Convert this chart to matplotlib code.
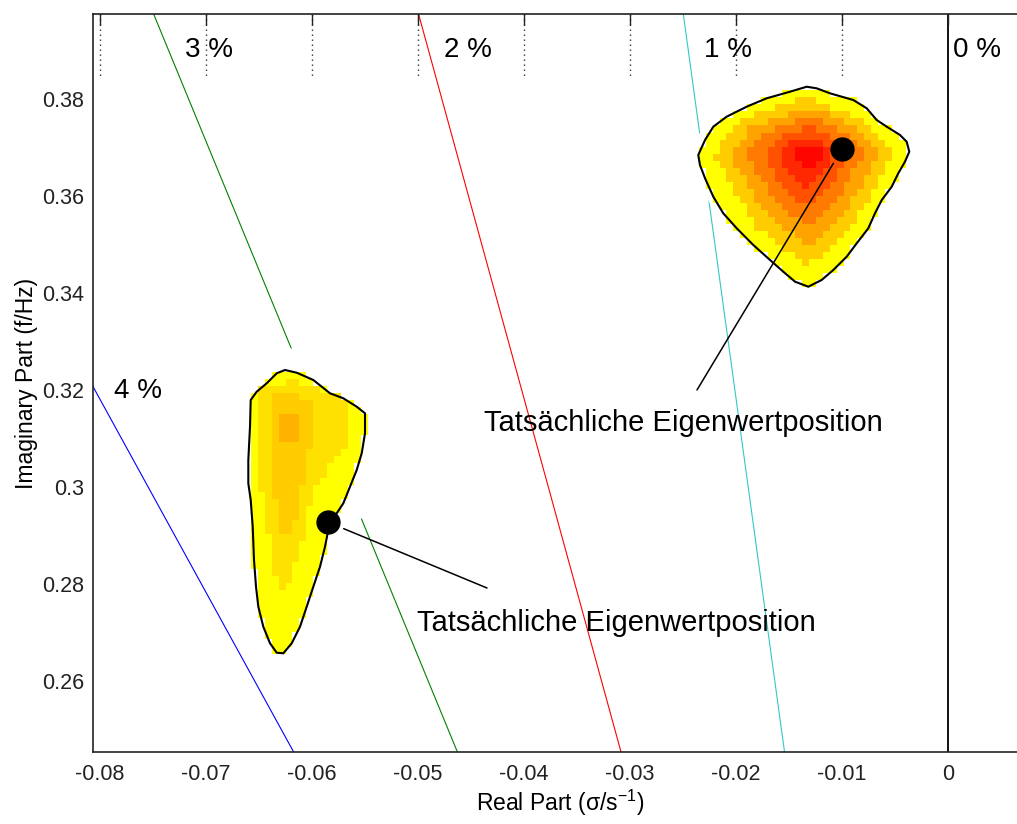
import numpy as np
import matplotlib
matplotlib.use('Agg')
import matplotlib.pyplot as plt
from matplotlib.path import Path
from matplotlib.patches import Polygon

plt.rcParams['font.family'] = ['Liberation Sans', 'DejaVu Sans']
plt.rcParams['mathtext.fontset'] = 'custom'
plt.rcParams['mathtext.rm'] = 'Liberation Sans'
plt.rcParams['mathtext.it'] = 'Liberation Sans:italic'
plt.rcParams['axes.unicode_minus'] = False

# ---------------- data ----------------
damping_pct = [0, 1, 2, 3, 4]
damping_colors = ['black', '#33C8C8', '#FF0000', '#008000', '#0000FF']
damping_labels = ['0 %', '1 %', '2 %', '3 %', '4 %']
damping_label_x = [0.00278, -0.02077, -0.04528, -0.06972, -0.07642]
damping_label_y = [0.3886, 0.3886, 0.3886, 0.3886, 0.3183]

x_ticks = [-0.08, -0.07, -0.06, -0.05, -0.04, -0.03, -0.02, -0.01, 0.0]
x_ticklabels = ['-0.08', '-0.07', '-0.06', '-0.05', '-0.04', '-0.03', '-0.02', '-0.01', '0']
y_ticks = [0.26, 0.28, 0.30, 0.32, 0.34, 0.36, 0.38]
y_ticklabels = ['0.26', '0.28', '0.3', '0.32', '0.34', '0.36', '0.38']
dotted_x = [-0.08, -0.07, -0.06, -0.05, -0.04, -0.03, -0.02, -0.01]
dotted_y_end = 0.3844

# true eigenvalue positions (real part, imaginary part)
eig_re = [-0.0100, -0.05846]
eig_im = [0.3696, 0.29273]
annot_text = ['Tatsächliche Eigenwertposition', 'Tatsächliche Eigenwertposition']
annot_line_end_x = [-0.02368, -0.04349]
annot_line_end_y = [0.31998, 0.27920]
annot_text_x = [-0.0250, -0.03127]
annot_text_y = [0.31318, 0.27199]

# upper blob: outline of the estimate distribution
upper_outline = [
    (-0.02356, 0.36837), (-0.02292, 0.37146), (-0.02214, 0.37420), (-0.02088, 0.37626),
    (-0.01899, 0.37832), (-0.01710, 0.38005), (-0.01491, 0.38140), (-0.01333, 0.38243),
    (-0.01239, 0.38210), (-0.01113, 0.38107), (-0.00893, 0.37969), (-0.00767, 0.37799),
    (-0.00673, 0.37558), (-0.00578, 0.37420), (-0.00453, 0.37249), (-0.00390, 0.37111),
    (-0.00365, 0.36905), (-0.00406, 0.36699), (-0.00469, 0.36460), (-0.00531, 0.36184),
    (-0.00625, 0.35910), (-0.00689, 0.35636), (-0.00752, 0.35327), (-0.00861, 0.35019),
    (-0.00956, 0.34743), (-0.01082, 0.34469), (-0.01192, 0.34263), (-0.01318, 0.34125),
    (-0.01443, 0.34228), (-0.01554, 0.34434), (-0.01679, 0.34675), (-0.01837, 0.34984),
    (-0.01993, 0.35327), (-0.02120, 0.35636), (-0.02214, 0.35978), (-0.02292, 0.36357),
    (-0.02340, 0.36631)]
# nested density levels of the upper blob (read as contours)
upper_level_values = [0.2, 0.36, 0.52, 0.68, 0.84, 0.98]
upper_levels = [
    [(-0.01305, 0.38033), (-0.00743, 0.37456), (-0.00511, 0.36896), (-0.00848, 0.35530),
     (-0.01321, 0.34533), (-0.01810, 0.35355), (-0.02203, 0.36843), (-0.01970, 0.37543)],
    [(-0.01308, 0.37830), (-0.00845, 0.37354), (-0.00654, 0.36893), (-0.00931, 0.35768),
     (-0.01321, 0.34946), (-0.01724, 0.35624), (-0.02047, 0.36849), (-0.01856, 0.37426)],
    [(-0.01310, 0.37626), (-0.00947, 0.37252), (-0.00797, 0.36889), (-0.01015, 0.36006),
     (-0.01321, 0.35360), (-0.01637, 0.35893), (-0.01892, 0.36855), (-0.01741, 0.37309)],
    [(-0.01313, 0.37422), (-0.01049, 0.37150), (-0.00940, 0.36886), (-0.01098, 0.36244),
     (-0.01321, 0.35774), (-0.01551, 0.36162), (-0.01736, 0.36862), (-0.01626, 0.37191)],
    [(-0.01316, 0.37245), (-0.01137, 0.37062), (-0.01064, 0.36884), (-0.01171, 0.36450),
     (-0.01321, 0.36133), (-0.01476, 0.36394), (-0.01601, 0.36867), (-0.01527, 0.37089)],
    [(-0.01318, 0.37068), (-0.01226, 0.36973), (-0.01187, 0.36881), (-0.01243, 0.36656),
     (-0.01321, 0.36492), (-0.01401, 0.36627), (-0.01466, 0.36872), (-0.01428, 0.36988)],
]
upper_halo = [(-0.023679, 0.372282), (-0.022264, 0.375577), (-0.013396, 0.382990),
              (-0.003396, 0.371458), (-0.004057, 0.364250), (-0.013019, 0.340157),
              (-0.022170, 0.357249), (-0.023962, 0.364250)]

# lower blob
lower_outline = [
    (-0.062547, 0.324094), (-0.061443, 0.323538), (-0.059877, 0.322035), (-0.058302, 0.319296),
    (-0.057047, 0.318266), (-0.055783, 0.316536), (-0.055000, 0.315177), (-0.055000, 0.311059),
    (-0.055311, 0.306940), (-0.055783, 0.303501), (-0.056415, 0.300062), (-0.057047, 0.296643),
    (-0.057670, 0.294584), (-0.058462, 0.291145), (-0.058774, 0.287706), (-0.059245, 0.283587),
    (-0.059877, 0.279469), (-0.060500, 0.275350), (-0.061132, 0.271232), (-0.061915, 0.267813),
    (-0.062708, 0.265754), (-0.063330, 0.265877), (-0.063962, 0.267813), (-0.064594, 0.271232),
    (-0.065066, 0.275350), (-0.065283, 0.279469), (-0.065472, 0.284967), (-0.065594, 0.291825),
    (-0.065783, 0.297323), (-0.066009, 0.300762), (-0.066009, 0.305560), (-0.065849, 0.312418),
    (-0.065783, 0.317916), (-0.065217, 0.319625), (-0.064274, 0.321355), (-0.063330, 0.323414)]
lower_level_values = [0.12, 0.2, 0.3]
lower_levels = [
    [(-0.065094, 0.319975), (-0.062075, 0.322035), (-0.057358, 0.318946), (-0.056415, 0.314827),
     (-0.056887, 0.308649), (-0.058302, 0.304530), (-0.060000, 0.299382), (-0.060377, 0.293204),
     (-0.060943, 0.288056), (-0.061887, 0.281878), (-0.062547, 0.278377), (-0.063113, 0.278789),
     (-0.063774, 0.284967), (-0.064340, 0.293204), (-0.064906, 0.301442), (-0.065283, 0.309679),
     (-0.065283, 0.316886)],
    [(-0.063774, 0.319563), (-0.061887, 0.319563), (-0.059906, 0.316886), (-0.059906, 0.309679),
     (-0.060660, 0.303501), (-0.061132, 0.297323), (-0.061698, 0.291145), (-0.062830, 0.290733),
     (-0.063396, 0.296293), (-0.063774, 0.303501), (-0.063962, 0.311738)],
    [(-0.063019, 0.315445), (-0.061509, 0.315445), (-0.061509, 0.309679), (-0.063019, 0.309267)],
]
lower_halo = [(-0.062736, 0.329242), (-0.061132, 0.327801), (-0.057358, 0.322035),
              (-0.054717, 0.315857), (-0.054717, 0.305560), (-0.055283, 0.293616),
              (-0.057358, 0.289086), (-0.061132, 0.268492), (-0.063019, 0.264992),
              (-0.064717, 0.268492), (-0.066226, 0.297323), (-0.066321, 0.318946)]

# ---------------- figure ----------------
fig = plt.figure(figsize=(10.17, 8.24), dpi=100)
ax = fig.add_axes([0.09115, 0.08738, 0.91868, 0.89563])
xlim = (-0.08069, 0.007453)
ylim = (0.245428, 0.397405)
ax.set_xlim(*xlim)
ax.set_ylim(*ylim)

# constant damping lines
f_line = np.array(ylim)
for pct, col in zip(damping_pct, damping_colors):
    z = pct / 100.0
    sigma = -z / np.sqrt(1 - z ** 2) * 2 * np.pi * f_line
    lw = 1.3 if pct == 0 else 0.8
    ax.plot(sigma, f_line, color=col, lw=lw, zorder=1)
for lx, ly, lab in zip(damping_label_x, damping_label_y, damping_labels):
    ax.text(lx, ly, lab, fontsize=20, ha='center', va='baseline', zorder=7)

# dotted marks at top
for dxp in dotted_x:
    ax.plot([dxp, dxp], [ylim[1], dotted_y_end], color='#333333', lw=1.0,
            linestyle=(0, (1, 2.6)), zorder=1)

# low-density (white) halos covering lines
for halo in (upper_halo, lower_halo):
    ax.add_patch(Polygon(halo, closed=True, facecolor='white', edgecolor='none', zorder=2))

# density cells
dxc, dyc = 0.00065, 0.00145
xe = np.arange(-0.0807, 0.0075, dxc)
ye = np.arange(0.2454, 0.3975, dyc)
xc = (xe[:-1] + xe[1:]) / 2
yc = (ye[:-1] + ye[1:]) / 2
XX, YY = np.meshgrid(xc, yc)
pts = np.column_stack([XX.ravel(), YY.ravel()])
val = np.full(XX.size, np.nan)
for outline, levels, values in ((upper_outline, upper_levels, upper_level_values),
                                (lower_outline, lower_levels, lower_level_values)):
    inside = Path(outline).contains_points(pts)
    val[inside] = 0.0
    for poly, v in zip(levels, values):
        ins = Path(poly).contains_points(pts)
        val[ins & inside] = v
Z = np.ma.masked_invalid(val.reshape(XX.shape))
ax.pcolormesh(xe, ye, Z, cmap='autumn_r', vmin=0, vmax=1, shading='flat', zorder=3)

# outlines
for outline in (upper_outline, lower_outline):
    ax.add_patch(Polygon(outline, closed=True, facecolor='none', edgecolor='black',
                         lw=1.5, zorder=4))

# annotations
for ex, ey, lx, ly, tx, ty, txt in zip(eig_re, eig_im, annot_line_end_x, annot_line_end_y,
                                       annot_text_x, annot_text_y, annot_text):
    ax.annotate('', xy=(ex, ey), xytext=(lx, ly),
                arrowprops=dict(arrowstyle='-', color='black', lw=1.1,
                                shrinkA=0, shrinkB=12), zorder=5)
    ax.text(tx, ty, txt, fontsize=21, ha='center', va='center', zorder=7)
ax.plot(eig_re, eig_im, 'o', color='black', markersize=16.5, zorder=6)

# axes styling
ax.set_xticks(x_ticks)
ax.set_xticklabels(x_ticklabels)
ax.set_yticks(y_ticks)
ax.set_yticklabels(y_ticklabels)
ax.tick_params(axis='both', direction='in', length=8, width=1.0, labelsize=15.5,
               top=True, bottom=False, left=False, right=False, colors='#222222')
ax.tick_params(axis='x', pad=9)
ax.tick_params(axis='y', pad=6)
for sp in ax.spines.values():
    sp.set_linewidth(1.2)
    sp.set_color('#222222')
ax.set_xlabel('Real Part (σ/s$^{-1}$)', fontsize=16.5, labelpad=2)
ax.set_ylabel('Imaginary Part (f/Hz)', fontsize=16.5, labelpad=3)

fig.savefig('out.png', dpi=100)
